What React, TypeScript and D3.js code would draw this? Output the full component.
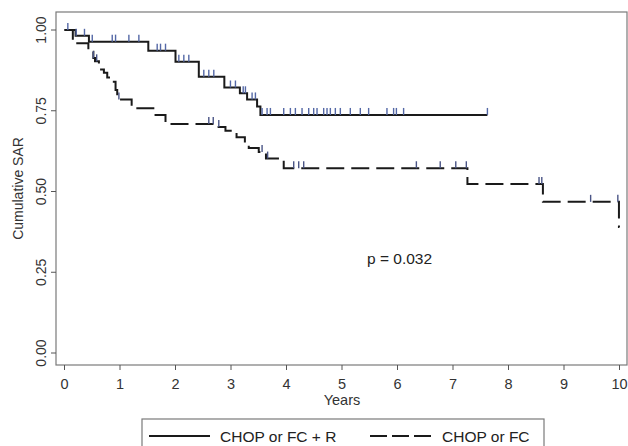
import * as d3 from 'd3';

// CHOP or FC + R : [time (years), survival after the drop]
const rSteps: [number, number][] = [
  [0, 1.0], [0.2, 0.982], [0.44, 0.964], [1.51, 0.936], [2.0, 0.902], [2.42, 0.855],
  [2.88, 0.822], [3.16, 0.804], [3.29, 0.785], [3.47, 0.763], [3.53, 0.737], [7.62, 0.737],
];
const rCensor = [
  0.06, 0.21, 0.36, 0.5, 0.86, 0.92, 1.16, 1.34, 1.67, 1.73, 1.82, 2.06, 2.15, 2.24,
  2.51, 2.6, 2.69, 2.99, 3.08, 3.22, 3.26, 3.38, 3.44, 3.56, 3.65, 3.71, 3.95, 4.07,
  4.16, 4.28, 4.4, 4.49, 4.55, 4.67, 4.73, 4.79, 4.88, 4.97, 5.15, 5.33, 5.48, 5.81,
  5.93, 5.98, 6.11, 7.62,
];

// CHOP or FC
const cSteps: [number, number][] = [
  [0, 1.0], [0.15, 0.959], [0.43, 0.933], [0.52, 0.913], [0.55, 0.903], [0.62, 0.878],
  [0.71, 0.868], [0.77, 0.853], [0.86, 0.84], [0.92, 0.814], [0.95, 0.785], [1.21, 0.758],
  [1.62, 0.737], [1.82, 0.709], [2.72, 0.7], [2.9, 0.688], [3.1, 0.668], [3.25, 0.648],
  [3.32, 0.635], [3.5, 0.622], [3.63, 0.602], [3.95, 0.572], [7.26, 0.523], [8.62, 0.468],
  [9.99, 0.39], [10, 0.39],
];
const cCensor = [
  0.52, 0.58, 0.98, 2.6, 2.68, 2.78, 3.56, 3.66, 4.13, 4.22, 4.31, 6.34, 6.77, 7.05,
  7.24, 8.55, 8.6, 9.48, 9.97,
];

const xTicks = [0, 1, 2, 3, 4, 5, 6, 7, 8, 9, 10];
const yTicks = [0, 0.25, 0.5, 0.75, 1.0];

const W = 628;
const H = 446;
const frame = { left: 56, top: 12, right: 627, bottom: 365 };

const x = d3.scaleLinear().domain([0, 10]).range([64.5, 619.5]);
const y = d3.scaleLinear().domain([0, 1]).range([353, 30]);

const stepLine = d3.line<[number, number]>()
  .x(d => x(d[0]))
  .y(d => y(d[1]))
  .curve(d3.curveStepAfter);

function survAt(steps: [number, number][], t: number) {
  let s = steps[0][1];
  for (const [tt, v] of steps) if (tt <= t) s = v;
  return s;
}

const font = 'Liberation Sans, Arial, Helvetica, sans-serif';

export default function App() {
  return (
    <svg width={W} height={H} style={{ position: 'absolute', left: 0, top: 0, background: '#fff' }} fontFamily={font}>
      <rect x={0} y={0} width={W} height={H} fill="#fff" />
      <rect x={frame.left} y={frame.top} width={frame.right - frame.left} height={frame.bottom - frame.top}
        fill="none" stroke="#7a7a7a" strokeWidth={1.2} />

      {/* y axis */}
      {yTicks.map(v => (
        <g key={v}>
          <line x1={frame.left - 5} x2={frame.left} y1={y(v)} y2={y(v)} stroke="#555" />
          <text transform={`translate(46,${y(v)}) rotate(-90)`} textAnchor="middle" fontSize={14} fill="#333">
            {d3.format('.2f')(v)}
          </text>
        </g>
      ))}
      <text transform={`translate(23,${(frame.top + frame.bottom) / 2}) rotate(-90)`} textAnchor="middle"
        fontSize={14} fill="#333">Cumulative SAR</text>

      {/* x axis */}
      {xTicks.map(v => (
        <g key={v}>
          <line x1={x(v)} x2={x(v)} y1={frame.bottom} y2={frame.bottom + 5} stroke="#555" />
          <text x={x(v)} y={389} textAnchor="middle" fontSize={14.5} fill="#333">{v}</text>
        </g>
      ))}
      <text x={(x(0) + x(10)) / 2} y={405} textAnchor="middle" fontSize={14.5} fill="#333">Years</text>

      {/* curves */}
      <path d={stepLine(cSteps) ?? ''} fill="none" stroke="#1a1a1a" strokeWidth={2} strokeDasharray="18,7" />
      <path d={stepLine(rSteps) ?? ''} fill="none" stroke="#1a1a1a" strokeWidth={2} />

      {cCensor.map((t, i) => {
        const yy = y(survAt(cSteps, t));
        return <line key={'c' + i} x1={x(t)} x2={x(t)} y1={yy} y2={yy - 7} stroke="#4a5586" strokeWidth={1.4} />;
      })}
      {rCensor.map((t, i) => {
        const yy = y(survAt(rSteps, t));
        return <line key={'r' + i} x1={x(t)} x2={x(t)} y1={yy} y2={yy - 7} stroke="#5468a6" strokeWidth={1.4} />;
      })}

      <text x={367} y={264} fontSize={15.5} fill="#222">p = 0.032</text>

      {/* legend */}
      <rect x={142} y={419} width={402} height={40} fill="#fff" stroke="#7a7a7a" strokeWidth={1.2} />
      <line x1={149} x2={210} y1={436} y2={436} stroke="#1a1a1a" strokeWidth={2} />
      <text x={220} y={441.5} fontSize={15.5} fill="#222">CHOP or FC + R</text>
      <line x1={370} x2={431} y1={436} y2={436} stroke="#1a1a1a" strokeWidth={2} strokeDasharray="17,5" />
      <text x={442} y={441.5} fontSize={15.5} fill="#222">CHOP or FC</text>
    </svg>
  );
}
